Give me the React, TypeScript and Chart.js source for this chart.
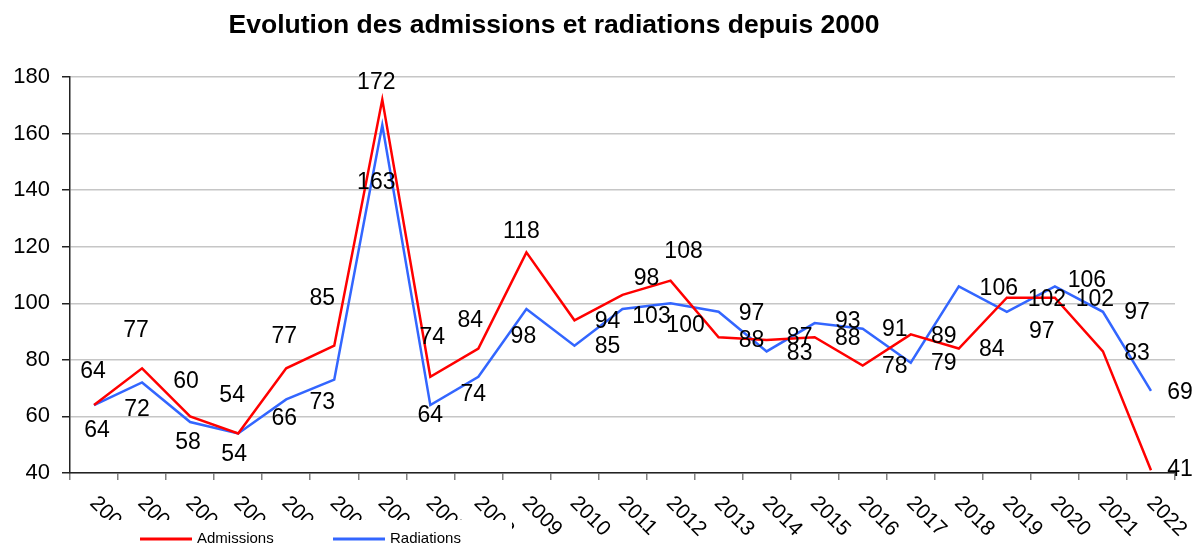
import React, { useEffect, useRef } from "react";
import { Chart, registerables } from "chart.js";

Chart.register(...registerables);

// ---- Data ----
const years = [
  "2000", "2001", "2002", "2003", "2004", "2005", "2006", "2007", "2008", "2009", "2010", "2011",
  "2012", "2013", "2014", "2015", "2016", "2017", "2018", "2019", "2020", "2021", "2022",
];
const admissions = [64, 77, 60, 54, 77, 85, 172, 74, 84, 118, 94, 103, 108, 88, 87, 88, 78, 89, 84, 102, 102, 83, 41];
const radiations = [64, 72, 58, 54, 66, 73, 163, 64, 74, 98, 85, 98, 100, 97, 83, 93, 91, 79, 106, 97, 106, 97, 69];
const yMin = 40;
const yMax = 180;
const yStep = 20;

const TITLE = "Evolution des admissions et radiations depuis 2000";
const seriesNames = ["Admissions", "Radiations"];

// ---- Label layout (pixel nudges of each value label relative to its point) ----
const admLabelDx = [-1, -6, -4, -6, -2, -12, -6, 2, -8, -5, 33, 29, 13, 33, 33, 33, 32, 33, 33, 40, 40, 34, 29];
const admLabelDy = [-33, -38, -35, -38, -32, -47, -17, -39, -28, -21, 1, 22, -29, 3, -2, 1, 1, 2, 1, 2, 2, 2, -1];
const radLabelDx = [3, -5, -2, -4, -2, -12, -6, 0, -5, -3, 33, 24, 15, 33, 33, 33, 32, 33, 40, 35, 32, 34, 29];
const radLabelDy = [26, 27, 21, 21, 19, 23, 58, 11, 18, 28, 1, -30, 22, 2, 2, -1, 1, 1, 2, 20, -6, 1, 2];

const RED = "#ff0000";
const BLUE = "#3366ff";
const FONT = '"Liberation Sans", Arial, sans-serif';

const overlayPlugin = {
  id: "overlay",
  afterDatasetsDraw(chart: any) {
    const ctx = chart.ctx;
    const offsets = [
      [admLabelDx, admLabelDy],
      [radLabelDx, radLabelDy],
    ];
    ctx.save();
    ctx.font = `23px ${FONT}`;
    ctx.fillStyle = "#000";
    ctx.textAlign = "center";
    ctx.textBaseline = "middle";
    chart.data.datasets.forEach((ds: any, di: number) => {
      const meta = chart.getDatasetMeta(di);
      meta.data.forEach((pt: any, i: number) => {
        const [dx, dy] = offsets[di];
        ctx.fillText(String(ds.data[i]), pt.x + dx[i], pt.y + dy[i]);
      });
    });
    ctx.restore();
  },
  afterDraw(chart: any) {
    const ctx = chart.ctx;
    const xs = chart.scales.x;
    const area = chart.chartArea;
    ctx.save();
    // rotated category labels
    ctx.font = `21px ${FONT}`;
    ctx.fillStyle = "#000";
    ctx.textAlign = "left";
    ctx.textBaseline = "middle";
    years.forEach((y, i) => {
      const x = xs.getPixelForValue(i);
      ctx.save();
      ctx.translate(x - 1, area.bottom + 27);
      ctx.rotate(Math.PI / 4);
      ctx.fillText(y, 0, 0);
      ctx.restore();
    });
    // legend box (white) over the lower part of the labels
    ctx.fillStyle = "#fff";
    ctx.fillRect(60, 520, 452, 25);
    const ly = 539;
    const items = [
      { color: RED, x: 140, label: seriesNames[0] },
      { color: BLUE, x: 333, label: seriesNames[1] },
    ];
    ctx.font = `15px ${FONT}`;
    ctx.textAlign = "left";
    ctx.textBaseline = "middle";
    items.forEach((it) => {
      ctx.strokeStyle = it.color;
      ctx.lineWidth = 3;
      ctx.beginPath();
      ctx.moveTo(it.x, ly);
      ctx.lineTo(it.x + 52, ly);
      ctx.stroke();
      ctx.fillStyle = "#000";
      ctx.fillText(it.label, it.x + 57, ly);
    });
    // title
    ctx.font = `bold 26.5px ${FONT}`;
    ctx.textAlign = "center";
    ctx.textBaseline = "middle";
    ctx.fillStyle = "#000";
    ctx.fillText(TITLE, 554, 26);
    ctx.restore();
  },
};

export default function App() {
  const ref = useRef<HTMLCanvasElement>(null);
  useEffect(() => {
    if (!ref.current) return;
    const chart = new Chart(ref.current, {
      type: "line",
      data: {
        labels: years,
        datasets: [
          {
            label: seriesNames[0],
            data: admissions,
            borderColor: RED,
            backgroundColor: RED,
            borderWidth: 2.5,
            pointRadius: 0,
            tension: 0,
          },
          {
            label: seriesNames[1],
            data: radiations,
            borderColor: BLUE,
            backgroundColor: BLUE,
            borderWidth: 2.5,
            pointRadius: 0,
            tension: 0,
          },
        ],
      },
      options: {
        responsive: false,
        animation: false,
        devicePixelRatio: 1,
        layout: { padding: { left: 0, right: 21, top: 77, bottom: 0 } },
        plugins: {
          legend: { display: false },
          title: { display: false },
          tooltip: { enabled: false },
        },
        scales: {
          x: {
            type: "category",
            offset: true,
            grid: {
              offset: true,
              drawOnChartArea: false,
              drawTicks: true,
              tickLength: 7,
              tickColor: "#808080",
              lineWidth: 1.5,
            },
            border: { color: "#222", width: 1.5 },
            ticks: { display: false },
            afterFit: (s: any) => {
              s.height = 72;
            },
          },
          y: {
            min: yMin,
            max: yMax,
            grid: {
              color: "#c6c6c6",
              lineWidth: 1.5,
              tickLength: 8,
              tickColor: "#222",
            },
            border: { color: "#222", width: 1.5 },
            ticks: {
              stepSize: yStep,
              padding: 12,
              color: "#000",
              font: { family: FONT, size: 22 },
            },
            afterFit: (s: any) => {
              s.width = 70;
            },
          },
        },
      },
      plugins: [overlayPlugin],
    });
    return () => chart.destroy();
  }, []);
  return (
    <div style={{ position: "absolute", left: 0, top: 0, width: 1196, height: 545, background: "#fff" }}>
      <canvas ref={ref} width={1196} height={545} style={{ display: "block" }} />
    </div>
  );
}
